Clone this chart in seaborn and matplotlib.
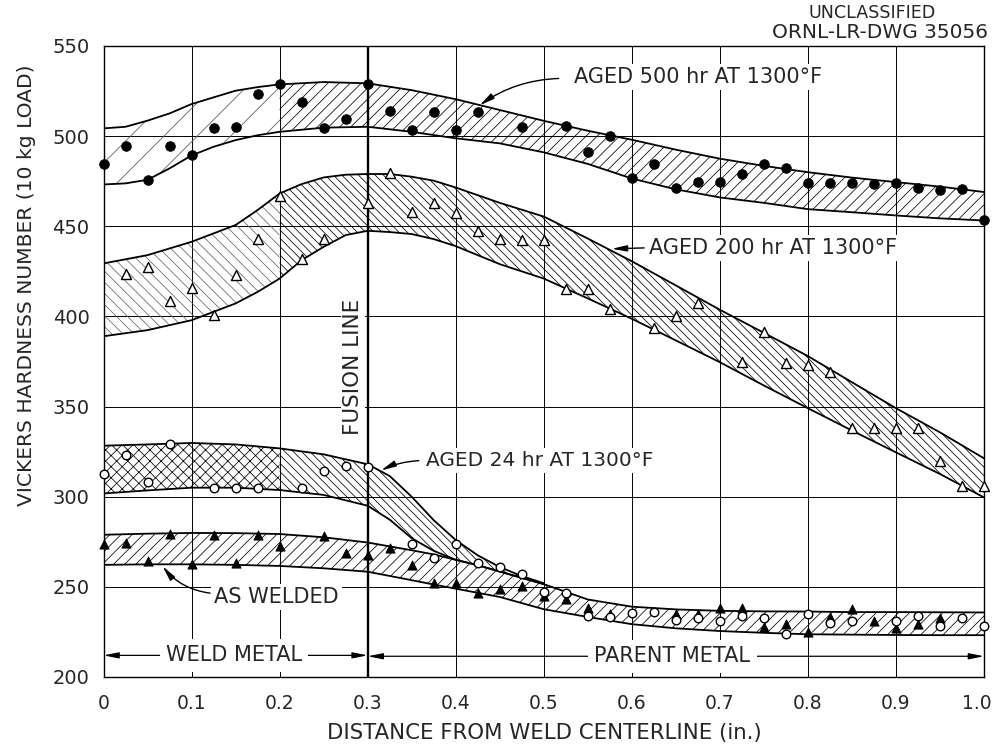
import numpy as np
import pandas as pd
import matplotlib
matplotlib.use("Agg")
import matplotlib.pyplot as plt
import matplotlib.transforms as mtransforms
import seaborn as sns

# ---------------- data ----------------
# measured points
p500_x = [0, .025, .05, .075, .1, .125, .15, .175, .2, .225, .25, .275, .3, .325, .35, .375, .4, .425,
          .475, .525, .55, .575, .6, .625, .65, .675, .7, .725, .75, .775, .8, .825, .85, .875, .9,
          .925, .95, .975, 1.0]
p500_y = [484.3, 494.7, 475.8, 494.5, 489.3, 504.7, 505.2, 523.5, 528.7, 519, 504.7, 509.5, 528.7,
          513.9, 503.5, 513.5, 503.2, 513.2, 505, 505.8, 491, 500.3, 477, 484.7, 471, 474.7, 474.7,
          479.2, 484.7, 482.5, 473.8, 473.8, 473.8, 473.2, 473.8, 471.4, 470, 470.9, 453.5]

p200_x = [.025, .05, .075, .1, .125, .15, .175, .2, .225, .25, .3, .325, .35, .375, .4, .425, .45,
          .475, .5, .525, .55, .575, .625, .65, .675, .725, .75, .775, .8, .825, .85, .875, .9,
          .925, .95, .975, 1.0]
p200_y = [423.3, 427.5, 408.3, 415.9, 400.9, 423.1, 443, 466.8, 431.6, 442.7, 463, 479.7, 458,
          463, 457.5, 447.5, 443, 442.5, 442.5, 415, 415, 404.3, 393.7, 400.2, 407.6, 374.6,
          391.3, 374.3, 373.3, 369.4, 337.9, 337.9, 337.9, 337.9, 320, 305.7, 305.7]

p24_x = [0, .025, .05, .075, .125, .15, .175, .225, .25, .275, .3, .35, .375, .4, .425, .45, .475,
         .5, .525, .55, .575, .6, .625, .65, .675, .7, .725, .75, .775, .8, .825, .85, .9, .925,
         .95, .975, 1.0]
p24_y = [312.5, 323.3, 308.2, 329.2, 305, 304.6, 304.6, 305, 314.3, 317.1, 316.5, 273.7, 266.2,
         273.7, 263.4, 261, 257.4, 247.2, 246.5, 233.9, 233.5, 235.4, 235.8, 231.7, 232.6, 230.8,
         233.9, 232.6, 224.1, 234.8, 230.2, 230.8, 230.8, 233.6, 228.3, 233, 228.3]

paw_x = [0, .025, .05, .075, .1, .125, .15, .175, .2, .25, .275, .3, .325, .35, .375, .4, .425,
         .45, .475, .5, .525, .55, .575, .65, .675, .7, .725, .75, .775, .8, .825, .85, .875, .9,
         .925, .95]
paw_y = [273.9, 274.3, 264.6, 279.3, 262.5, 278.9, 263.4, 278.9, 272.8, 278.4, 268.7, 267.7,
         271.5, 262.2, 252.3, 251.9, 246.7, 249, 250.6, 245, 243.2, 238, 235.2, 234.8, 234.8,
         238, 238.5, 228, 229.3, 225.2, 233.3, 237.6, 230.8, 227.4, 229.6, 233]

# scatter bands (upper / lower boundary curves)
b500_x = [0, .025, .05, .075, .1, .125, .15, .175, .2, .25, .3, .35, .4, .45, .5, .55, .6, .65,
          .7, .75, .8, .85, .9, .95, 1.0]
b500_hi = [504.3, 505.2, 508.6, 512.6, 517.8, 521.5, 525.2, 527.2, 528.7, 530, 529.3, 525.5,
           520.5, 514.5, 508.5, 503, 498, 492.5, 487.5, 483.5, 480, 477, 474.5, 472, 469]
b500_lo = [473.2, 473.8, 475.8, 482.1, 489.3, 494.1, 497.8, 500.5, 502.4, 504.7, 505.2, 502.4,
           498.8, 496, 491, 484.6, 476.5, 470.5, 466, 463, 459.5, 457.8, 456, 454.4, 453.2]

b200_x = [0, .05, .1, .15, .175, .2, .225, .25, .275, .3, .325, .35, .375, .4, .45, .5, .55, .6,
          .65, .7, .75, .8, .85, .9, .95, 1.0]
b200_hi = [429.4, 434, 441.4, 450.7, 459, 468.2, 473.4, 477.1, 478.6, 479, 479, 477.5, 475.3,
           471.5, 463, 455.4, 443.2, 430.6, 417.2, 403.7, 390.9, 378, 363.5, 349.1, 335.7, 321.3]
b200_lo = [389, 392.4, 397.9, 407.2, 413.6, 421, 431.2, 438.6, 445.1, 447.5, 446.8, 445.7,
           442.9, 439, 429, 421, 410, 398.7, 386.7, 374.6, 361.7, 349.1, 336.7, 324.6, 312.6,
           299.6]

b24_x = [0, .05, .1, .15, .2, .25, .3, .325, .35, .375, .4, .425, .45, .475, .5]
b24_hi = [328.3, 329, 329.8, 329, 326.8, 323.5, 318, 311.5, 300, 287, 276, 267.5, 261, 256, 252]
b24_lo = [301.8, 303.5, 305, 305, 303.7, 301, 295, 287.3, 277, 270, 265, 262, 258.5, 255, 251.5]

baw_x = [0, .05, .1, .15, .2, .25, .3, .35, .375, .4, .425, .45, .475, .5, .55, .6, .65, .7,
         .75, .8, .85, .9, .95, 1.0]
baw_hi = [278.9, 279.5, 279.9, 279.8, 279.3, 277.5, 274.6, 270.3, 268, 265, 262, 258.5, 255,
          251.5, 243, 239, 237.5, 236.7, 236.4, 236.3, 236, 236, 235.9, 235.8]
baw_lo = [262.2, 262.5, 262.5, 262.2, 261.6, 260.3, 258.4, 253.7, 251.3, 249, 246.7, 244.4, 241,
          237.6, 233.3, 229.3, 227, 225.5, 224.5, 223.7, 223.5, 223.3, 223.2, 223.2]

x_ticks = [0, 0.1, 0.2, 0.3, 0.4, 0.5, 0.6, 0.7, 0.8, 0.9, 1.0]
x_tick_labels = ["0", "0.1", "0.2", "0.3", "0.4", "0.5", "0.6", "0.7", "0.8", "0.9", "1.0"]
y_ticks = [200, 250, 300, 350, 400, 450, 500, 550]

# ---------------- style ----------------
sns.set_style("white")
plt.rcParams["font.family"] = ["DejaVu Sans"]
plt.rcParams["hatch.linewidth"] = 0.55
plt.rcParams["hatch.color"] = "black"

fig = plt.figure(figsize=(9.96, 7.51), dpi=100)
ax = fig.add_axes([103.5 / 996, 1 - 677 / 751, 880.5 / 996, 631 / 751])
ax.set_xlim(0, 1.0)
ax.set_ylim(200, 550)

# grid
for xv in x_ticks:
    ax.axvline(xv, color="black", lw=1.7 if xv == 0.3 else 0.7,
               zorder=8.5 if xv == 0.3 else 1)
for yv in y_ticks:
    ax.axhline(yv, color="black", lw=0.7, zorder=1)

for s in ax.spines.values():
    s.set_color("black")
    s.set_linewidth(1.0)


def band(xs, lo, hi, hatch, where=None, color="black"):
    xs = np.asarray(xs)
    ax.fill_between(xs, lo, hi, where=where, facecolor="none", edgecolor=color,
                    hatch=hatch, linewidth=0, zorder=2, interpolate=False)


def edges(xs, lo, hi):
    for ys in (lo, hi):
        sns.lineplot(x=xs, y=ys, color="black", lw=1.3, estimator=None, sort=False,
                     ax=ax, zorder=3, legend=False)


x5 = np.asarray(b500_x)
band(b500_x, b500_lo, b500_hi, "/", where=x5 <= 0.2, color="#555555")
band(b500_x, b500_lo, b500_hi, "///", where=x5 >= 0.2)
edges(b500_x, b500_lo, b500_hi)

x2 = np.asarray(b200_x)
band(b200_x, b200_lo, b200_hi, "\\\\\\", where=x2 <= 0.2, color="#666666")
band(b200_x, b200_lo, b200_hi, "\\\\\\\\", where=x2 >= 0.2)
edges(b200_x, b200_lo, b200_hi)

xa = np.asarray(baw_x)
band(baw_x, baw_lo, baw_hi, "///")
edges(baw_x, baw_lo, baw_hi)

x24 = np.asarray(b24_x)
band(b24_x, b24_lo, b24_hi, "xxx", where=x24 <= 0.2)
band(b24_x, b24_lo, b24_hi, "\\\\\\\\", where=x24 >= 0.2)
edges(b24_x, b24_lo, b24_hi)

# points
sns.scatterplot(x=p500_x, y=p500_y, marker="o", s=48, color="black", edgecolor="black",
                linewidth=0.6, ax=ax, zorder=9, clip_on=False)
sns.scatterplot(x=p200_x, y=p200_y, marker="^", s=52, color="white", edgecolor="black",
                linewidth=1.0, ax=ax, zorder=9, clip_on=False)
sns.scatterplot(x=p24_x, y=p24_y, marker="o", s=38, color="white", edgecolor="black",
                linewidth=1.0, ax=ax, zorder=9.5, clip_on=False)
sns.scatterplot(x=paw_x, y=paw_y, marker="^", s=44, color="black", edgecolor="black",
                linewidth=0.6, ax=ax, zorder=9, clip_on=False)

# ticks
ax.set_xticks(x_ticks)
ax.set_xticklabels(x_tick_labels)
ax.set_yticks(y_ticks)
ax.tick_params(axis="x", length=0, pad=12, labelsize=13.5)
ax.tick_params(axis="y", length=0, pad=10, labelsize=14)
ax.set_xlabel("")
ax.set_ylabel("")
last = ax.get_xticklabels()[-1]
last.set_transform(last.get_transform() +
                   mtransforms.ScaledTranslation(-7 / 100, 0, fig.dpi_scale_trans))

fig.text(544 / 996, 1 - 733 / 751, "DISTANCE FROM WELD CENTERLINE (in.)", ha="center",
         va="center", fontsize=15.3)
fig.text(27 / 996, 1 - 285 / 751, "VICKERS HARDNESS NUMBER (10 kg LOAD)", ha="center",
         va="center", rotation=90, fontsize=14.6)
fig.text(872 / 996, 1 - 13 / 751, "UNCLASSIFIED", ha="center", va="center", fontsize=12.6)
fig.text(880 / 996, 1 - 32 / 751, "ORNL-LR-DWG 35056", ha="center", va="center", fontsize=14.5)

white = dict(boxstyle="square,pad=0.15", fc="white", ec="none")
arrow = dict(arrowstyle="-|>,head_length=0.9,head_width=0.18", color="black", lw=1.0,
             shrinkA=0, shrinkB=0)

ax.text(0.534, 533, "AGED 500 hr AT 1300°F", ha="left", va="center", fontsize=15,
        bbox=white, zorder=8)
ax.annotate("", xy=(0.427, 517), xytext=(0.517, 532),
            arrowprops=dict(arrow, connectionstyle="arc3,rad=0.15"), zorder=8)

ax.text(0.619, 438, "AGED 200 hr AT 1300°F", ha="left", va="center", fontsize=15,
        bbox=white, zorder=8)
ax.annotate("", xy=(0.577, 437.5), xytext=(0.614, 438),
            arrowprops=arrow, zorder=8)

ax.text(0.366, 320, "AGED 24 hr AT 1300°F", ha="left", va="center", fontsize=14.5,
        bbox=white, zorder=8)
ax.annotate("", xy=(0.315, 314.5), xytext=(0.358, 320),
            arrowprops=dict(arrow, connectionstyle="arc3,rad=0.1"), zorder=8)

ax.text(0.126, 244.5, "AS WELDED", ha="left", va="center", fontsize=15,
        bbox=white, zorder=8)
ax.annotate("", xy=(0.067, 261.5), xytext=(0.121, 246.5),
            arrowprops=dict(arrow, connectionstyle="arc3,rad=-0.2"), zorder=8)

ax.text(0.283, 372, "FUSION LINE", ha="center", va="center", rotation=90, fontsize=15.5,
        bbox=dict(boxstyle="square,pad=0.1", fc="white", ec="none"), zorder=8)

dbl = dict(arrowstyle="<|-|>,head_length=0.9,head_width=0.18", color="black", lw=0.9,
           shrinkA=0, shrinkB=0)
ax.annotate("", xy=(0.0, 212), xytext=(0.3, 212), arrowprops=dbl, zorder=8)
ax.text(0.148, 212, "WELD METAL", ha="center", va="center", fontsize=15,
        bbox=dict(boxstyle="square,pad=0.3", fc="white", ec="none"), zorder=9)
ax.annotate("", xy=(0.3, 211.5), xytext=(1.0, 211.5), arrowprops=dbl, zorder=8)
ax.text(0.646, 211.5, "PARENT METAL", ha="center", va="center", fontsize=15,
        bbox=dict(boxstyle="square,pad=0.3", fc="white", ec="none"), zorder=9)

fig.savefig("out.png", dpi=100, facecolor="white")
